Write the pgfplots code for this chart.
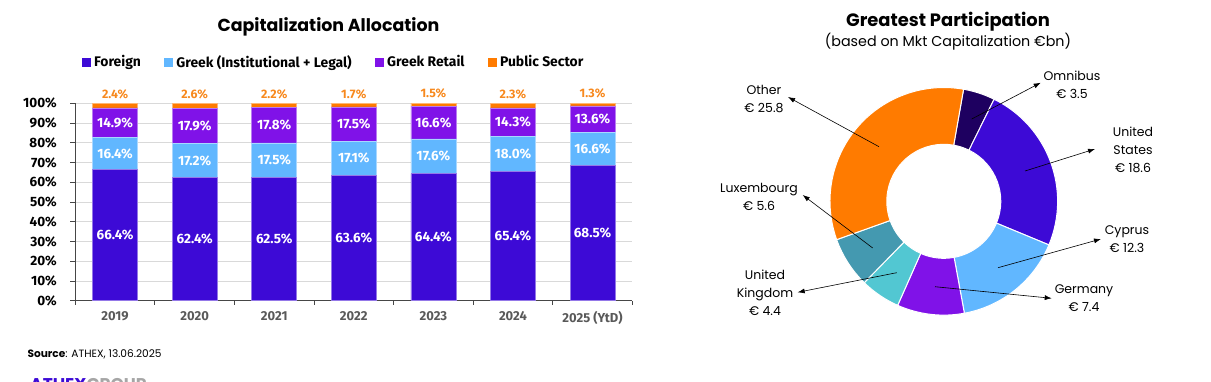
\documentclass[border=0pt]{standalone}
\usepackage{pgfplots}
\pgfplotsset{compat=1.18}
\usepackage{pgfplotstable}
\usepackage{fontspec}
\setmainfont{Poppins}
\newfontfamily\fira{Fira Sans}
\usetikzlibrary{arrows.meta,calc}

\definecolor{cForeign}{RGB}{61,10,214}
\definecolor{cGreek}{RGB}{97,183,255}
\definecolor{cRetail}{RGB}{128,18,232}
\definecolor{cPublic}{RGB}{255,123,0}
\definecolor{cOmni}{RGB}{30,0,96}
\definecolor{cUK}{RGB}{82,199,210}
\definecolor{cLux}{RGB}{68,153,176}
\definecolor{cGrid}{RGB}{217,217,217}
\definecolor{cAxis}{RGB}{70,70,70}
\definecolor{cTick}{RGB}{89,89,89}
\definecolor{cLabelOrange}{RGB}{247,137,30}

\pgfplotstableread{
x foreign greek retail public
0 66.4 16.4 14.9 2.4
1 62.4 17.2 17.9 2.6
2 62.5 17.5 17.8 2.2
3 63.6 17.1 17.5 1.7
4 64.4 17.6 16.6 1.5
5 65.4 18.0 14.3 2.3
6 68.5 16.6 13.6 1.3
}\capdata

% Greatest participation (EUR bn)
\def\vOmni{3.5}
\def\vUS{18.6}
\def\vCY{12.3}
\def\vDE{7.4}
\def\vUK{4.4}
\def\vLU{5.6}
\def\vOther{25.8}

\def\Ro{113.8}
\def\Ri{57}
\newcommand\donutwedge[3]{%
  \fill[#3, draw=white, line width=1pt]
    ($(axis cs:0,0)+(#1:\Ro pt)$) arc[start angle=#1, end angle=#2, radius=\Ro pt]
    -- ($(axis cs:0,0)+(#2:\Ri pt)$) arc[start angle=#2, end angle=#1, radius=\Ri pt] -- cycle;}

\begin{document}
\begin{tikzpicture}
\path[use as bounding box] (0pt,0pt) rectangle (1211pt,-381pt);

% ---------- Left: stacked bars ----------
\node[anchor=base, font=\bfseries\fontsize{17.4}{19}\selectfont] at (328.5pt,-31pt) {Capitalization Allocation};

\begin{axis}[
  at={(75.3pt,-300.7pt)}, anchor=south west,
  scale only axis, width=557pt, height=197.4pt,
  ybar stacked, bar width=45pt,
  xmin=-0.5, xmax=6.5, ymin=0, ymax=100,
  xtick={0,...,6},
  xticklabels={2019,2020,2021,2022,2023,2024,2025 (YtD)},
  minor xtick={-0.5,0.5,...,6.5},
  ytick={0,10,...,100},
  yticklabels={0\%,10\%,20\%,30\%,40\%,50\%,60\%,70\%,80\%,90\%,100\%},
  axis x line*=bottom, axis y line*=left,
  axis line style={draw=cAxis, line width=0.8pt},
  ymajorgrids, grid style={draw=cGrid, line width=0.8pt},
  tick align=outside, major tick length=5pt, minor tick length=4pt,
  major x tick style={draw=none},
  minor x tick style={draw=cAxis, line width=0.8pt},
  y tick style={draw=cAxis, line width=0.8pt},
  xticklabel style={font=\fira\bfseries\fontsize{13}{15}\selectfont, text=cTick, yshift=-2pt},
  yticklabel style={font=\fira\bfseries\fontsize{13.5}{15}\selectfont, text=black, xshift=-10pt},
  /pgf/number format/assume math mode=true,
  clip=false,
  legend columns=4,
  legend style={draw=none, fill=none, at={(axis description cs:0.464,1.209)}, anchor=center,
    font=\fira\bfseries\fontsize{13.9}{15}\selectfont,
    /tikz/every odd column/.append style={column sep=1pt},
    /tikz/every even column/.append style={column sep=21.5pt}},
  legend image code/.code={\fill[#1, draw=none] (0pt,-4.5pt) rectangle (9pt,4.5pt);},
  inner label/.style={
    nodes near coords={\pgfmathprintnumber[fixed,fixed zerofill,precision=1]{\rawy}\%},
    visualization depends on=rawy \as \rawy,
    every node near coord/.append style={anchor=center, text=white,
      font=\fira\bfseries\fontsize{13.5}{15}\selectfont}},
]
\addplot[fill=cForeign, draw=cForeign!55!white, line width=0.5pt, inner label] table[x=x, y=foreign] {\capdata};
\addplot[fill=cGreek, draw=cGreek!55!white, line width=0.5pt, inner label] table[x=x, y=greek] {\capdata};
\addplot[fill=cRetail, draw=cRetail!55!white, line width=0.5pt, inner label] table[x=x, y=retail] {\capdata};
\addplot[fill=cPublic, draw=cPublic!55!white, line width=0.5pt,
  nodes near coords={\pgfmathprintnumber[fixed,fixed zerofill,precision=1]{\rawy}\%},
  visualization depends on=rawy \as \rawy,
  every node near coord/.append style={anchor=center, text=cLabelOrange,
      font=\fira\bfseries\fontsize{12.3}{14}\selectfont, yshift=11pt}] table[x=x, y=public] {\capdata};
\legend{Foreign, Greek (Institutional + Legal), Greek Retail, Public Sector}
\end{axis}

\node[anchor=base west, font=\fontsize{10.6}{12}\selectfont] at (24pt,-357.7pt) {\textbf{Source}: ATHEX, 13.06.2025};
\node[anchor=base west, font=\bfseries\fontsize{17}{19}\selectfont] at (26.7pt,-390pt) {\textcolor{cForeign}{ATHEX}\textcolor{black!35}{GROUP}};

% ---------- Right: donut ----------
\node[anchor=base, font=\bfseries\fontsize{17.9}{20}\selectfont] at (948pt,-26.7pt) {Greatest Participation};
\node[anchor=base, font=\fontsize{14.3}{16}\selectfont] at (948pt,-46pt) {(based on Mkt Capitalization €bn)};

\pgfmathsetmacro\tot{\vOmni+\vUS+\vCY+\vDE+\vUK+\vLU+\vOther}
\pgfmathsetmacro\aA{80}
\pgfmathsetmacro\aB{\aA-\vOmni/\tot*360}
\pgfmathsetmacro\aC{\aB-\vUS/\tot*360}
\pgfmathsetmacro\aD{\aC-\vCY/\tot*360}
\pgfmathsetmacro\aE{\aD-\vDE/\tot*360}
\pgfmathsetmacro\aF{\aE-\vUK/\tot*360}
\pgfmathsetmacro\aG{\aF-\vLU/\tot*360}
\pgfmathsetmacro\aH{\aG-\vOther/\tot*360}

\begin{axis}[
  at={(943.8pt,-201.3pt)}, anchor=center,
  x=1pt, y=1pt, xmin=-120, xmax=120, ymin=-120, ymax=120,
  hide axis, clip=false,
]
\donutwedge{\aA}{\aB}{cOmni}
\donutwedge{\aB}{\aC}{cForeign}
\donutwedge{\aC}{\aD}{cGreek}
\donutwedge{\aD}{\aE}{cRetail}
\donutwedge{\aE}{\aF}{cUK}
\donutwedge{\aF}{\aG}{cLux}
\donutwedge{\aG}{\aH}{cPublic}
\end{axis}

\begin{scope}[font=\fontsize{12.5}{18}\selectfont, align=center]
\node at (1072pt,-84.5pt) {Omnibus\\€ 3.5};
\node at (764pt,-98.5pt) {Other\\€ 25.8};
\node at (1133pt,-150pt) {United\\States\\€ 18.6};
\node at (759pt,-197pt) {Luxembourg\\€ 5.6};
\node at (1127pt,-239pt) {Cyprus\\€ 12.3};
\node at (1084pt,-298.5pt) {Germany\\€ 7.4};
\node at (765pt,-292.5pt) {United\\Kingdom\\€ 4.4};
\end{scope}

\begin{scope}[line width=0.6pt, -{Latex[length=7pt,width=5pt]}]
\draw (971.7pt,-119pt) -- (1040.7pt,-82.7pt);
\draw (879pt,-146.7pt) -- (788pt,-97pt);
\draw (1025pt,-171pt) -- (1095pt,-149pt);
\draw (872.7pt,-248pt) -- (802.7pt,-195pt);
\draw (998pt,-267.7pt) -- (1101pt,-239pt);
\draw (935pt,-286.7pt) -- (1051.7pt,-298.3pt);
\draw (896.7pt,-272.7pt) -- (797.7pt,-292.3pt);
\end{scope}
\end{tikzpicture}
\end{document}
